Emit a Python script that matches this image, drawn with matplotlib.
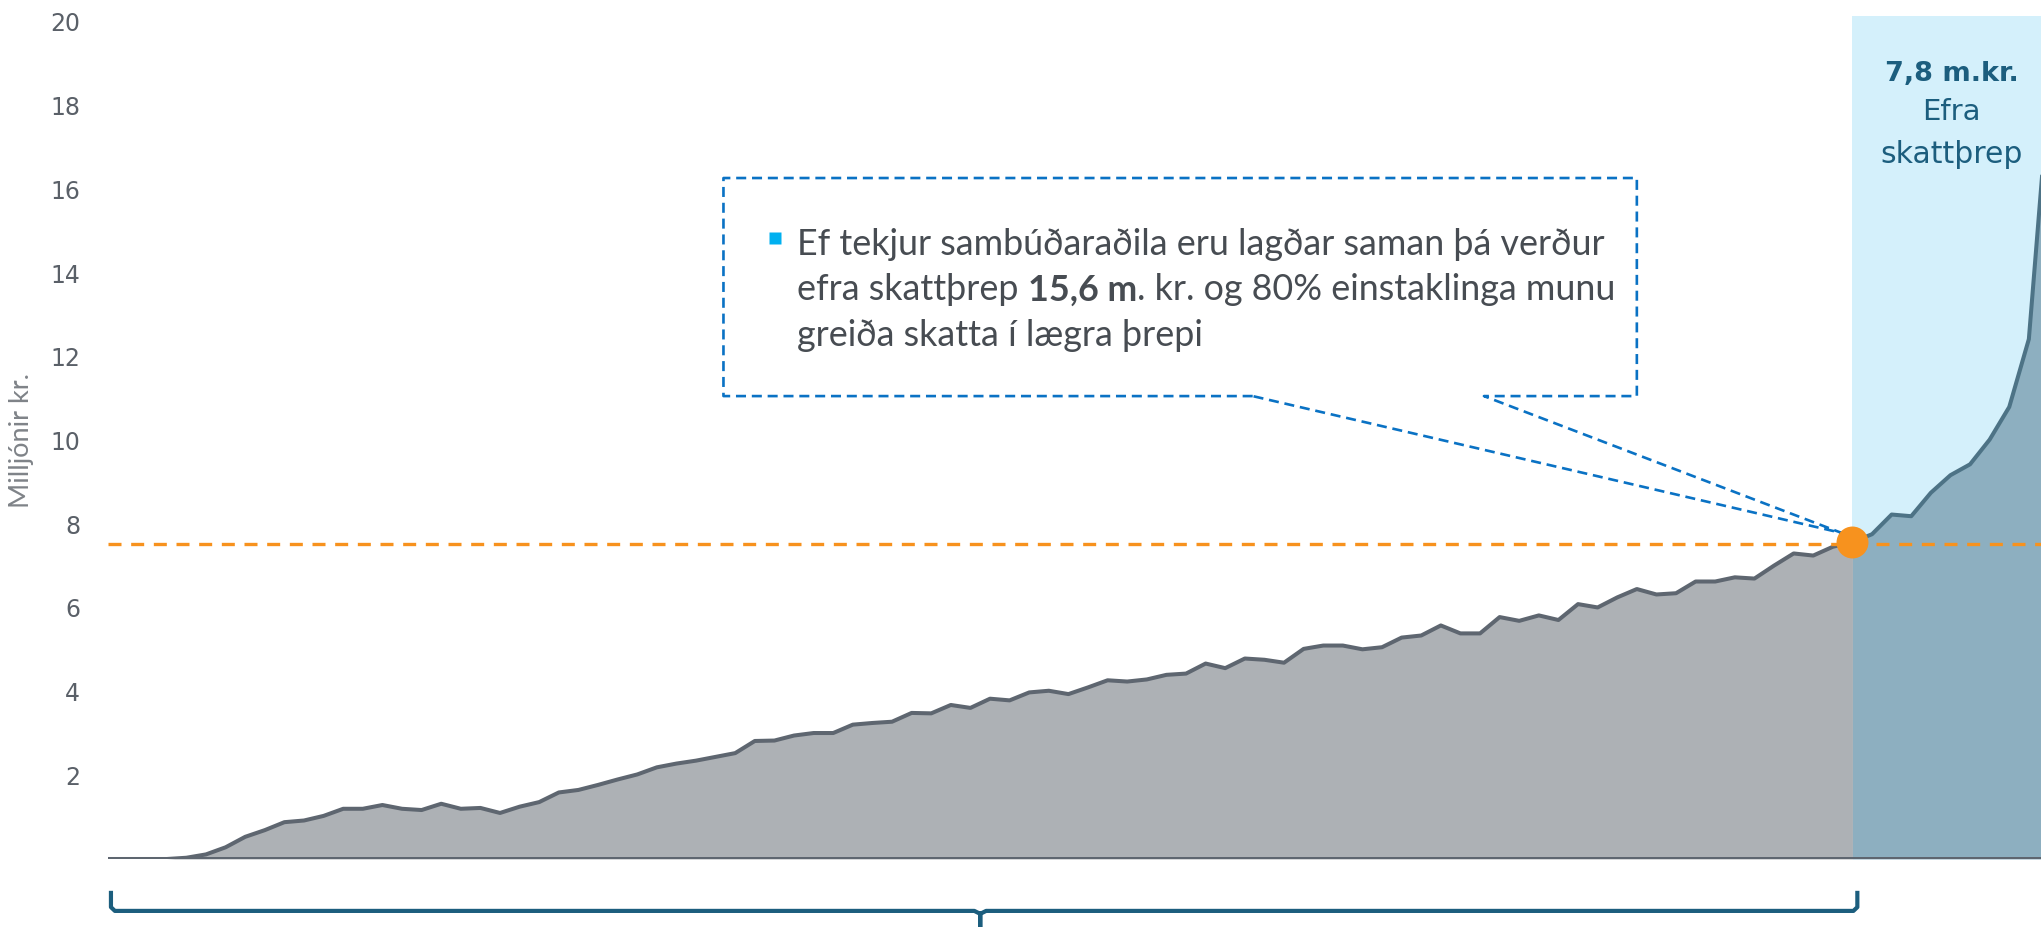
import numpy as np
import matplotlib.pyplot as plt

# tekjur eftir hundraðshlutum (m.kr.), lesið af myndinni
hundradshluti = np.arange(100)
tekjur = [0.00, 0.00, 0.00, 0.00, 0.03, 0.11, 0.28, 0.53, 0.69, 0.88,
          0.92, 1.03, 1.20, 1.20, 1.29, 1.20, 1.17, 1.32, 1.20, 1.22,
          1.10, 1.25, 1.36, 1.59, 1.65, 1.77, 1.90, 2.02, 2.19, 2.28,
          2.35, 2.44, 2.53, 2.82, 2.83, 2.95, 3.01, 3.01, 3.21, 3.25,
          3.28, 3.49, 3.48, 3.68, 3.61, 3.83, 3.79, 3.98, 4.02, 3.94,
          4.10, 4.27, 4.24, 4.29, 4.40, 4.43, 4.67, 4.56, 4.79, 4.76,
          4.69, 5.02, 5.10, 5.10, 5.01, 5.06, 5.29, 5.34, 5.58, 5.39,
          5.39, 5.78, 5.69, 5.82, 5.71, 6.09, 6.01, 6.25, 6.45, 6.32,
          6.35, 6.63, 6.63, 6.73, 6.70, 7.01, 7.30, 7.25, 7.46, 7.57,
          7.76, 8.23, 8.19, 8.75, 9.17, 9.43, 10.02, 10.80, 12.42, 18.2]
threp_mork = 7.52      # efra skattþrep
threp_idx = 89         # fyrsti hundraðshluti í efra þrepi
yticks = [2, 4, 6, 8, 10, 12, 14, 16, 18, 20]

grey_fill = "#ADB1B5"
grey_line = "#5E6670"
blue_bg = "#D4F0FB"
blue_fill = "#8DAFC0"
blue_line = "#4D7386"
orange = "#F7921E"
dash_blue = "#0A72C4"
teal = "#1C5E7E"
txt = "#474C52"

fig = plt.figure(figsize=(20.41, 9.27), dpi=100)
ax = fig.add_axes([0.05292, 0.07335, 0.94708, 0.9098])
ax.set_xlim(0, 98.62)
ax.set_ylim(0, 20.15)

x = hundradshluti
y = np.array(tekjur)
k = threp_idx

ax.axvspan(k, x[-1] + 1, color=blue_bg, lw=0, zorder=0)
ax.fill_between(x[:k + 1], y[:k + 1], color=grey_fill, lw=0, zorder=1)
ax.fill_between(x[k:], y[k:], color=blue_fill, lw=0, zorder=1)
ax.plot(x[:k + 1], y[:k + 1], color=grey_line, lw=2.9, zorder=3)
ax.plot(x[k:], y[k:], color=blue_line, lw=2.9, zorder=3)
ax.axhline(0, color=grey_line, lw=3.6, zorder=4)
ax.axhline(threp_mork, color=orange, lw=2.4, ls=(0, (3.9, 2.9)), zorder=4)

# callout
bl, br, bt, bb = 31.4, 78.0, 16.27, 11.06
g1, g2 = 58.4, 70.2
tip = (k - 0.55, y[k] + 0.22)
cx = [g1, bl, bl, br, br, g2, tip[0], g1]
cy = [bb, bb, bt, bt, bb, bb, tip[1], bb]
ax.plot(cx, cy, color=dash_blue, lw=1.9, ls=(0, (3.8, 2.2)), zorder=5)

ax.plot(k, y[k], "o", ms=23, color=orange, mec="none", zorder=6, clip_on=False)

# texti í kassa
ax.plot(34.03, 14.84, "s", ms=8.5, color="#00B0F0", mec="none", zorder=6)
tfont = dict(family="Lato", fontsize=25.8, color=txt, va="center", ha="left")
ax.text(35.15, 14.67, "Ef tekjur sambúðaraðila eru lagðar saman þá verður", **tfont)
t1 = ax.text(35.15, 13.60, "efra skattþrep ", **tfont)
t2 = ax.annotate("15,6 m", xy=(1, 0), xycoords=t1, ha="left", va="bottom",
                 family="Lato", fontsize=25.8, color=txt, fontweight="bold")
ax.annotate(". kr. og 80% einstaklinga munu", xy=(1, 0), xycoords=t2,
            ha="left", va="bottom", family="Lato", fontsize=25.8, color=txt)
ax.text(35.15, 12.50, "greiða skatta í lægra þrepi", **tfont)

# efra þrep
ax.text(94.05, 18.76, "7,8 m.kr.", ha="center", va="center", fontsize=19.5,
        fontweight="bold", color=teal)
ax.text(94.05, 17.85, "Efra", ha="center", va="center", fontsize=21, color=teal)
ax.text(94.05, 16.82, "skattþrep", ha="center", va="center", fontsize=21.5, color=teal)

# slaufa undir
mid = k / 2
bx = [0.15, 0.15, 0.35, mid - 0.3, mid, mid, mid, mid + 0.3, k + 0.05, k + 0.25, k + 0.25]
by = [-0.81, -1.15, -1.24, -1.24, -1.31, -1.75, -1.31, -1.24, -1.24, -1.15, -0.81]
ax.plot(bx, by, color=teal, lw=3.0, clip_on=False, zorder=5, solid_joinstyle="round")

ax.set_yticks(yticks)
ax.set_xticks([])
ax.tick_params(axis="y", length=0, pad=20, labelsize=17, labelcolor="#5A6068")
for s in ax.spines.values():
    s.set_visible(False)

fig.text(0.0105, 0.525, "Milljónir kr.", rotation=90, ha="center", va="center",
         family="Lato", fontsize=19.5, color="#7F8388")

fig.savefig("out.png", dpi=100)
